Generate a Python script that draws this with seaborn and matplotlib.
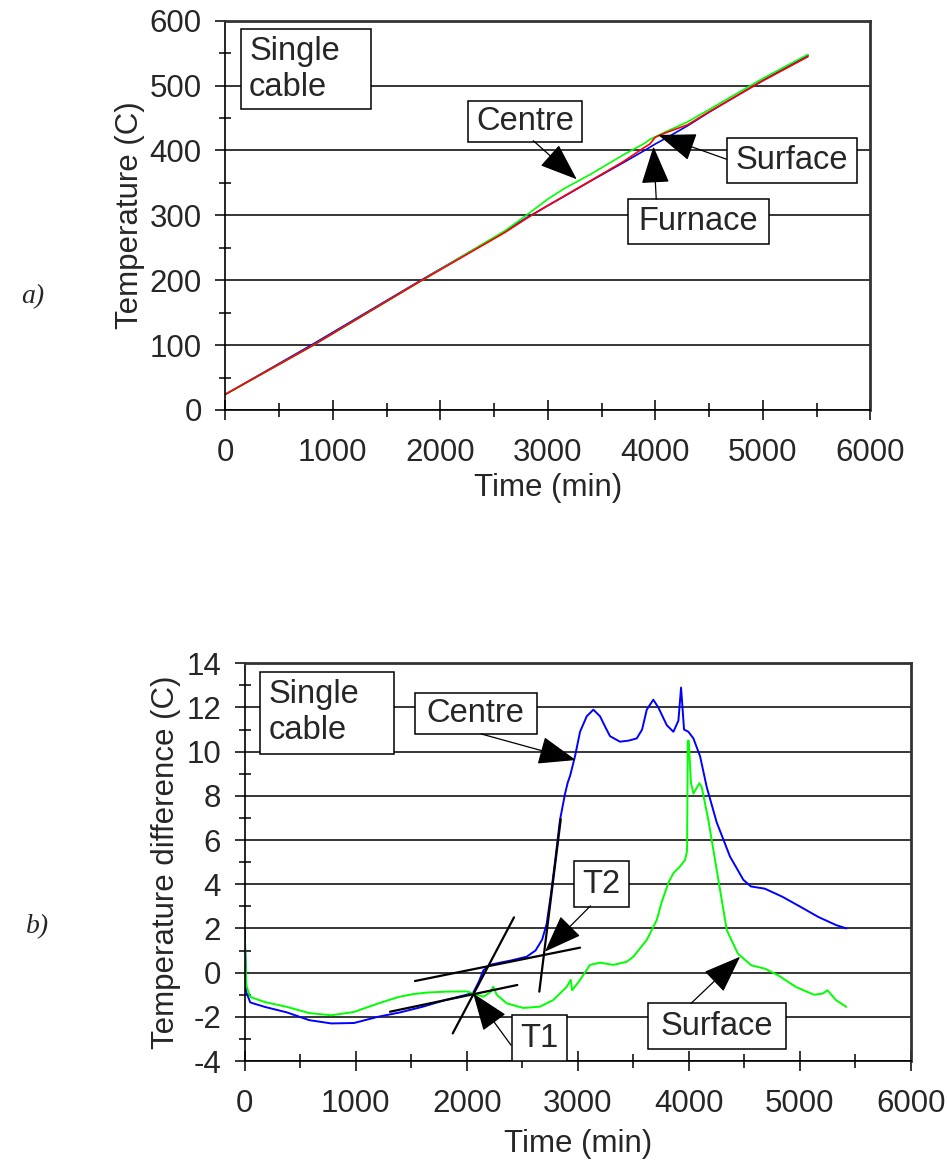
import numpy as np
import matplotlib
matplotlib.use("Agg")
import matplotlib.pyplot as plt
from matplotlib.patches import Rectangle
from matplotlib.ticker import MultipleLocator
import seaborn as sns

sns.set_style("white")
plt.rcParams["font.family"] = ["Liberation Sans", "DejaVu Sans"]
plt.rcParams["axes.unicode_minus"] = False

# ---------------- (a) temperatures during the heating ramp ----------------
time_a = [0, 800, 1800, 2600, 2800, 3000, 3150, 3400, 3700, 3900, 3950,
          4000, 4100, 4300, 4500, 5000, 5420]
furnace_a = [24, 100, 198, 275, 296, 315, 329, 353, 381, 400, 405,
             410, 419, 438, 459, 508, 546]
centre_a = [24, 98, 197, 276, 300, 325, 341, 363.5, 393, 411, 417,
            421, 429, 444, 463, 511, 548]
surface_a = [24, 98, 197, 273.5, 295, 315, 329.5, 353.5, 382.6, 404.8, 410,
             420.5, 427.5, 439.5, 459.5, 507.3, 544.5]

# ---------------- (b) difference to furnace temperature ----------------
time_centre_b = [0, 15, 50, 180, 380, 580, 780, 985, 1200, 1400, 1600, 1800,
                 2000, 2060, 2110, 2150, 2210, 2300, 2400, 2540, 2620, 2680,
                 2720, 2760, 2800, 2840, 2886, 2910, 2931, 2976, 3021, 3081,
                 3141, 3201, 3250, 3291, 3381, 3460, 3532, 3580, 3622, 3681,
                 3726, 3802, 3862, 3907, 3931, 3958, 3997, 4042, 4102, 4162,
                 4252, 4372, 4492, 4560, 4685, 4845, 5006, 5167, 5328, 5420]
centre_b = [1.9, -0.9, -1.35, -1.55, -1.8, -2.15, -2.3, -2.28, -2.0, -1.8,
            -1.55, -1.25, -1.0, -0.9, -0.4, 0.1, 0.35, 0.45, 0.55, 0.72, 1.0,
            1.5, 2.2, 3.6, 5.2, 6.9, 8.1, 8.6, 8.9, 9.8, 10.9, 11.6, 11.9,
            11.6, 11.1, 10.7, 10.45, 10.5, 10.6, 11.0, 11.9, 12.35, 12.0, 11.2,
            10.9, 11.4, 12.9, 11.0, 10.9, 10.6, 9.8, 8.4, 6.8, 5.25, 4.2, 3.9,
            3.8, 3.43, 2.98, 2.52, 2.15, 2.0]

time_surface_b = [0, 15, 50, 180, 380, 580, 780, 985, 1200, 1387, 1520, 1650,
                  1820, 2000, 2060, 2150, 2210, 2240, 2270, 2360, 2510, 2660,
                  2780, 2901, 2937, 2950, 3021, 3111, 3201, 3321, 3441, 3501,
                  3622, 3712, 3757, 3820, 3862, 3921, 3967, 3985, 3992, 4000,
                  4020, 4042, 4096, 4117, 4177, 4267, 4343, 4443, 4564, 4685,
                  4805, 4966, 5127, 5207, 5250, 5328, 5420]
surface_b = [1.5, -0.6, -1.1, -1.33, -1.55, -1.83, -1.93, -1.78, -1.4, -1.1,
             -0.97, -0.9, -0.86, -0.85, -0.94, -1.09, -0.9, -0.64, -1.0, -1.39,
             -1.6, -1.54, -1.24, -0.64, -0.33, -0.8, -0.33, 0.35, 0.45, 0.35,
             0.49, 0.72, 1.48, 2.38, 3.2, 4.1, 4.5, 4.8, 5.1, 5.5, 10.5, 10.5,
             8.6, 8.1, 8.57, 8.4, 6.9, 4.2, 1.92, 0.86, 0.33, 0.18, -0.12,
             -0.65, -1.0, -0.95, -0.8, -1.25, -1.55]

# construction lines used to locate T1 and T2
t1_shallow_t, t1_shallow_d = [1309, 2456], [-1.77, -0.56]
t1_steep_t, t1_steep_d = [1874, 2426], [-2.75, 2.5]
t2_shallow_t, t2_shallow_d = [1534, 3021], [-0.38, 1.13]
t2_steep_t, t2_steep_d = [2654, 2847], [-0.86, 6.94]

BLUE, GREEN, RED = "#0000FF", "#00FF00", "#FF0000"
FS = 22.5
FS_BOX = 23.5

fig = plt.figure(figsize=(9.47, 11.63), dpi=100)
ax_a = fig.add_axes([0.2379, 0.6475, 0.6811, 0.3347])
ax_b = fig.add_axes([0.2584, 0.0877, 0.7033, 0.3420])


def style_axes(ax, ymaj, ymin):
    ax.set_axisbelow(True)
    ax.xaxis.set_major_locator(MultipleLocator(1000))
    ax.xaxis.set_minor_locator(MultipleLocator(500))
    ax.yaxis.set_major_locator(MultipleLocator(ymaj))
    ax.yaxis.set_minor_locator(MultipleLocator(ymin))
    ax.grid(False)
    ax.grid(True, which="major", axis="y", color="black", lw=1.1)
    ax.tick_params(axis="x", which="major", direction="inout", length=14,
                   width=1.1, color="black", bottom=True, pad=13, labelsize=FS)
    ax.tick_params(axis="x", which="minor", direction="inout", length=10,
                   width=1.1, color="black", bottom=True)
    ax.tick_params(axis="y", which="major", direction="out", length=7,
                   width=1.1, color="black", left=True, pad=10, labelsize=FS)
    ax.tick_params(axis="y", which="minor", direction="inout", length=8,
                   width=1.1, color="black", left=True)
    for side in ("left", "bottom"):
        ax.spines[side].set_color("black")
        ax.spines[side].set_linewidth(1.2)
    for side in ("top", "right"):
        ax.spines[side].set_color("#333333")
        ax.spines[side].set_linewidth(2.0)
    ax.set_xlim(0, 6000)


def text_box(ax, x0, x1, y0, y1, label, tx=None, ha="center"):
    ax.add_patch(Rectangle((x0, y0), x1 - x0, y1 - y0, fc="white",
                           ec="black", lw=1.1, zorder=5))
    if tx is None:
        tx = (x0 + x1) / 2
    ax.text(tx, (y0 + y1) / 2, label, ha=ha, va="center", fontsize=FS_BOX,
            linespacing=1.22, zorder=6)


def arrow(ax, tail, head):
    ax.annotate("", xy=head, xytext=tail, zorder=7,
                arrowprops=dict(arrowstyle="-|>,head_length=1.2,head_width=0.45",
                                mutation_scale=20, lw=0.9, color="black",
                                shrinkA=0, shrinkB=0))


# ---- panel (a)
sns.lineplot(x=time_a, y=furnace_a, ax=ax_a, color=BLUE, lw=1.2,
             sort=False, estimator=None, legend=False)
sns.lineplot(x=time_a, y=centre_a, ax=ax_a, color=GREEN, lw=1.2,
             sort=False, estimator=None, legend=False)
sns.lineplot(x=time_a, y=surface_a, ax=ax_a, color=RED, lw=1.2,
             sort=False, estimator=None, legend=False)
style_axes(ax_a, 100, 50)
ax_a.set_ylim(0, 600)
ax_a.set_xlabel("Time (min)", fontsize=FS)
ax_a.set_ylabel("Temperature (C)", fontsize=FS)
ax_a.xaxis.set_label_coords(0.5, -0.163)
ax_a.yaxis.set_label_coords(-0.1245, 0.5)

text_box(ax_a, 147, 1351, 463.4, 586.7, "Single\ncable", tx=221, ha="left")
text_box(ax_a, 2257, 3319, 413, 476.7, "Centre")
text_box(ax_a, 4665, 5877, 349.4, 418.7, "Surface")
text_box(ax_a, 3743, 5060, 255.8, 324.7, "Furnace")
arrow(ax_a, (2865, 415), (3269, 355.6))
arrow(ax_a, (4664, 386.4), (4028, 423.9))
arrow(ax_a, (4009, 324.7), (3983, 406))

# ---- panel (b)
sns.lineplot(x=time_centre_b, y=centre_b, ax=ax_b, color=BLUE, lw=1.4,
             sort=False, estimator=None, legend=False)
sns.lineplot(x=time_surface_b, y=surface_b, ax=ax_b, color=GREEN, lw=1.4,
             sort=False, estimator=None, legend=False)
for tt, dd in ((t1_shallow_t, t1_shallow_d), (t1_steep_t, t1_steep_d),
               (t2_shallow_t, t2_shallow_d), (t2_steep_t, t2_steep_d)):
    ax_b.plot(tt, dd, color="black", lw=1.6, zorder=4)
style_axes(ax_b, 2, 1)
ax_b.set_ylim(-4, 14)
ax_b.set_xlabel("Time (min)", fontsize=FS)
ax_b.set_ylabel("Temperature difference (C)", fontsize=FS)
ax_b.xaxis.set_label_coords(0.5, -0.17)
ax_b.yaxis.set_label_coords(-0.0956, 0.5)

text_box(ax_b, 140, 1346, 9.91, 13.61, "Single\ncable", tx=212, ha="left")
text_box(ax_b, 1531, 2629, 10.8, 12.67, "Centre")
text_box(ax_b, 2963, 3461, 2.96, 5.04, "T2")
text_box(ax_b, 2404, 2903, -4.0, -1.93, "T1")
text_box(ax_b, 3631, 4877, -3.47, -1.39, "Surface")
arrow(ax_b, (2131, 10.8), (2983, 9.62))
arrow(ax_b, (3115, 3.02), (2705, 0.95))
arrow(ax_b, (2399, -3.28), (2058, -0.94))
arrow(ax_b, (4021, -1.39), (4463, 0.72))

# panel letters
fig.text(33 / 947, 1 - 297 / 1163, "a)", fontsize=20, style="italic",
         family=["Liberation Serif", "DejaVu Serif"], ha="center", va="center")
fig.text(38 / 947, 1 - 927 / 1163, "b)", fontsize=20, style="italic",
         family=["Liberation Serif", "DejaVu Serif"], ha="center", va="center")

fig.savefig("out.png", dpi=100)
